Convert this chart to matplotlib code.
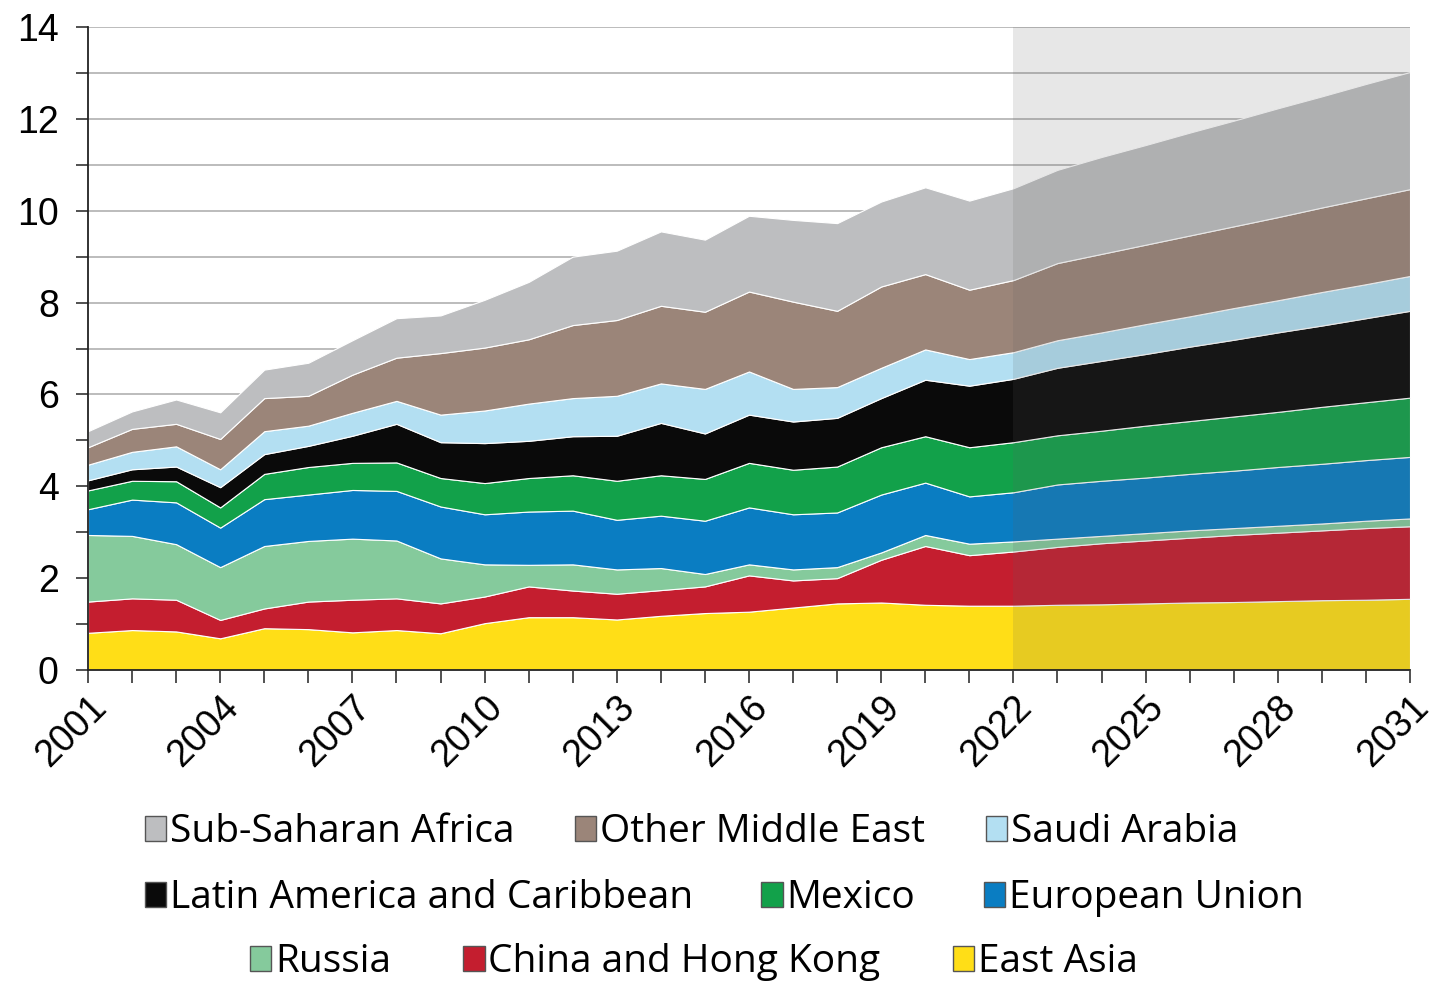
import numpy as np
import matplotlib
matplotlib.use("Agg")
import matplotlib.pyplot as plt
from matplotlib.patches import Patch

plt.rcParams['font.family'] = ['Liberation Sans', 'DejaVu Sans']

years = list(range(2001, 2032))

# values per region, stacked from the bottom up
east_asia = [0.81, 0.87, 0.84, 0.69, 0.91, 0.89, 0.82, 0.87, 0.80, 1.02, 1.15, 1.15, 1.10, 1.18, 1.24, 1.27,
             1.36, 1.45, 1.47, 1.42, 1.40, 1.40, 1.42, 1.43, 1.45, 1.47, 1.48, 1.50, 1.52, 1.53, 1.55]
china_hk = [0.68, 0.69, 0.69, 0.40, 0.43, 0.60, 0.71, 0.69, 0.65, 0.58, 0.67, 0.58, 0.56, 0.56, 0.58, 0.79,
            0.59, 0.55, 0.93, 1.28, 1.10, 1.18, 1.26, 1.33, 1.37, 1.41, 1.46, 1.49, 1.52, 1.56, 1.58]
russia = [1.45, 1.36, 1.21, 1.15, 1.36, 1.32, 1.33, 1.26, 0.98, 0.70, 0.47, 0.57, 0.53, 0.48, 0.27, 0.24,
          0.24, 0.24, 0.16, 0.24, 0.25, 0.22, 0.18, 0.16, 0.16, 0.16, 0.15, 0.15, 0.15, 0.16, 0.17]
eu = [0.56, 0.79, 0.91, 0.86, 1.02, 1.01, 1.06, 1.08, 1.13, 1.09, 1.16, 1.17, 1.08, 1.14, 1.16, 1.24,
      1.20, 1.19, 1.26, 1.14, 1.03, 1.07, 1.18, 1.20, 1.21, 1.23, 1.25, 1.28, 1.30, 1.32, 1.34]
mexico = [0.41, 0.41, 0.46, 0.44, 0.55, 0.60, 0.59, 0.62, 0.62, 0.68, 0.73, 0.77, 0.85, 0.88, 0.91, 0.97,
          0.97, 1.00, 1.03, 1.01, 1.07, 1.09, 1.07, 1.09, 1.13, 1.15, 1.18, 1.20, 1.24, 1.26, 1.29]
latam = [0.22, 0.25, 0.32, 0.44, 0.43, 0.46, 0.59, 0.84, 0.78, 0.87, 0.81, 0.85, 0.98, 1.14, 0.99, 1.05,
         1.05, 1.06, 1.07, 1.23, 1.34, 1.38, 1.47, 1.52, 1.56, 1.62, 1.67, 1.73, 1.77, 1.83, 1.89]
saudi = [0.34, 0.38, 0.44, 0.39, 0.50, 0.44, 0.50, 0.50, 0.60, 0.71, 0.81, 0.83, 0.87, 0.86, 0.97, 0.94,
         0.71, 0.67, 0.66, 0.66, 0.58, 0.58, 0.60, 0.62, 0.65, 0.66, 0.69, 0.70, 0.73, 0.74, 0.76]
other_me = [0.38, 0.50, 0.49, 0.66, 0.72, 0.65, 0.83, 0.94, 1.34, 1.37, 1.40, 1.59, 1.65, 1.69, 1.68, 1.74,
            1.90, 1.66, 1.77, 1.64, 1.51, 1.57, 1.68, 1.71, 1.73, 1.76, 1.78, 1.81, 1.84, 1.87, 1.89]
ssa = [0.35, 0.38, 0.53, 0.58, 0.62, 0.72, 0.75, 0.86, 0.82, 1.04, 1.25, 1.49, 1.51, 1.62, 1.57, 1.65,
       1.78, 1.91, 1.85, 1.89, 1.94, 2.00, 2.03, 2.11, 2.17, 2.24, 2.30, 2.37, 2.42, 2.49, 2.55]

labels = ["East Asia", "China and Hong Kong", "Russia", "European Union", "Mexico",
          "Latin America and Caribbean", "Saudi Arabia", "Other Middle East", "Sub-Saharan Africa"]
colors = ["#ffde17", "#c41e2f", "#85ca9c", "#0a7dc2", "#12a14a",
          "#0a0a0a", "#b3dff2", "#9b8579", "#bdbec0"]
series = [east_asia, china_hk, russia, eu, mexico, latam, saudi, other_me, ssa]

forecast_start = 2022

fig = plt.figure(figsize=(14.48, 9.83), dpi=100)
ax = fig.add_axes([88 / 1448, 1 - 670 / 983, 1322 / 1448, 643 / 983])

ax.stackplot(years, *series, colors=colors, edgecolor="white", linewidth=0.8, zorder=2)
# shaded projection period
ax.axvspan(forecast_start, years[-1], color="#606060", alpha=0.15, lw=0, zorder=3)

ax.set_xlim(years[0], years[-1])
ax.set_ylim(0, 14)
ax.set_yticks(range(0, 15, 2))
ax.set_yticks(range(1, 15, 2), minor=True)
ax.set_xticks(years[::3])
ax.set_xticks(years, minor=True)
ax.grid(axis="y", which="both", color="#b0b0b0", linewidth=1.2, zorder=0)
ax.set_axisbelow(True)

for s in ["top", "right"]:
    ax.spines[s].set_visible(False)
for s in ["left", "bottom"]:
    ax.spines[s].set_color("#222222")
    ax.spines[s].set_linewidth(1.3)
    ax.spines[s].set_zorder(5)

ax.tick_params(axis="both", which="both", length=9, width=1.1, color="#222222")
ax.tick_params(axis="y", labelsize=27, pad=12)
ax.tick_params(axis="x", labelsize=27, pad=5)
for lab in ax.get_xticklabels():
    lab.set_rotation(45)
    lab.set_ha("right")
    lab.set_va("top")
    lab.set_rotation_mode("anchor")

handles = {lab: Patch(facecolor=c, edgecolor="#555555", linewidth=1) for lab, c in zip(labels, colors)}
rows = [
    (["Sub-Saharan Africa", "Other Middle East", "Saudi Arabia"], 145, 832, 1.55),
    (["Latin America and Caribbean", "Mexico", "European Union"], 145, 898, 1.75),
    (["Russia", "China and Hong Kong", "East Asia"], 250, 962, 1.85),
]
for names, x0, y0, gap in rows:
    fig.legend([handles[n] for n in names], names, loc="center left",
               bbox_to_anchor=(x0 / 1448, 1 - y0 / 983), ncol=3, frameon=False,
               prop={"family": "Open Sans", "size": 28},
               handlelength=0.55, handleheight=0.6, handletextpad=0.1,
               columnspacing=gap, borderpad=0, borderaxespad=0)

fig.savefig("out.png", dpi=100)
